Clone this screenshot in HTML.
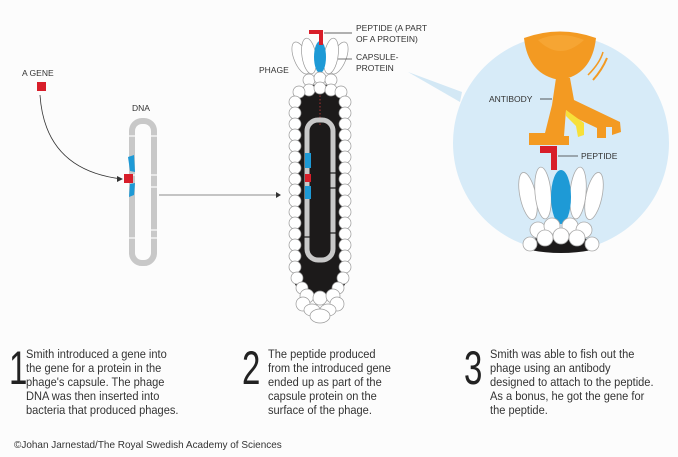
<!DOCTYPE html>
<html><head><style>
body{margin:0;background:#fff;}
svg{display:block;font-family:"Liberation Sans",sans-serif;}
.t{font-size:12.3px;fill:#333;}
.l{font-size:8.5px;fill:#333;}
.n{font-size:44px;fill:#222;}
</style></head><body>
<svg width="678" height="457" viewBox="0 0 678 457" xmlns="http://www.w3.org/2000/svg">
<rect width="678" height="457" fill="#fcfcfc"/>
<!-- left: gene + DNA -->
<text x="22" y="76" class="l">A GENE</text>
<rect x="37" y="82" width="9" height="9" fill="#d81e2a"/>
<path d="M40 95 Q45 170 122 179" fill="none" stroke="#333" stroke-width="0.8"/>
<path d="M117 176 L123 179 L117 182Z" fill="#333"/>
<text x="132" y="111" class="l">DNA</text>
<rect x="132" y="121" width="22" height="142" rx="10" fill="none" stroke="#c8c8c8" stroke-width="6"/>
<g stroke="#fcfcfc" stroke-width="1.2">
<line x1="128" y1="136" x2="158" y2="136"/><line x1="128" y1="175" x2="158" y2="175"/>
<line x1="150" y1="187" x2="158" y2="187"/><line x1="128" y1="238" x2="158" y2="238"/><line x1="150" y1="230" x2="158" y2="230"/>
</g>
<path d="M128 157 L134 155 L135 172 L130 171Z" fill="#1e9ad6"/>
<path d="M130 184 L135 183 L134 195 L129 197Z" fill="#1e9ad6"/>
<rect x="124" y="174" width="9" height="9" fill="#d81e2a"/>
<line x1="159" y1="195" x2="277" y2="195" stroke="#666" stroke-width="0.8"/>
<path d="M276 192 L281 195 L276 198Z" fill="#333"/>
<!-- phage -->
<text x="259" y="73" class="l">PHAGE</text>
<g fill="#fff" stroke="#999" stroke-width="0.7">
<ellipse cx="301" cy="58" rx="7" ry="17" transform="rotate(-22 301 58)"/>
<ellipse cx="339" cy="58" rx="7" ry="17" transform="rotate(22 339 58)"/>
<ellipse cx="309" cy="56" rx="7" ry="18" transform="rotate(-9 309 56)"/>
<ellipse cx="331" cy="56" rx="7" ry="18" transform="rotate(9 331 56)"/>
</g>
<ellipse cx="320" cy="57" rx="6" ry="16" fill="#1e9ad6"/>
<path d="M309 30 H323 V45 H319 V34 H309Z" fill="#d81e2a"/>
<line x1="324" y1="33" x2="352" y2="33" stroke="#333" stroke-width="0.7"/>
<line x1="338" y1="59" x2="352" y2="59" stroke="#333" stroke-width="0.7"/>
<text x="356" y="31" class="l">PEPTIDE (A PART</text>
<text x="356" y="42" class="l">OF A PROTEIN)</text>
<text x="356" y="60" class="l">CAPSULE-</text>
<text x="356" y="71" class="l">PROTEIN</text>
<path d="M293 100 Q293 86 320 84 Q347 86 347 100 L347 280 Q340 298 320 300 Q300 298 293 280Z" fill="#1c1a1a"/>
<line x1="320" y1="78" x2="320" y2="125" stroke="#a33" stroke-width="1" stroke-dasharray="1.5 2"/>
<g fill="#fff" stroke="#999" stroke-width="0.7">
<circle cx="309" cy="80" r="6"/><circle cx="320" cy="78" r="6"/><circle cx="331" cy="80" r="6"/>
<circle cx="309" cy="90" r="6"/><circle cx="320" cy="88" r="6"/><circle cx="331" cy="90" r="6"/>
<circle cx="299" cy="92" r="6"/><circle cx="341" cy="92" r="6"/>
</g>
<g fill="#fff" stroke="#999" stroke-width="0.7" id="col">
<circle cx="295" cy="102" r="6"/><circle cx="295" cy="113" r="6"/><circle cx="295" cy="124" r="6"/><circle cx="295" cy="135" r="6"/><circle cx="295" cy="146" r="6"/><circle cx="295" cy="157" r="6"/><circle cx="295" cy="168" r="6"/><circle cx="295" cy="179" r="6"/><circle cx="295" cy="190" r="6"/><circle cx="295" cy="201" r="6"/><circle cx="295" cy="212" r="6"/><circle cx="295" cy="223" r="6"/><circle cx="295" cy="234" r="6"/><circle cx="295" cy="245" r="6"/><circle cx="295" cy="256" r="6"/><circle cx="295" cy="267" r="6"/><circle cx="297" cy="278" r="6"/>
</g>
<use href="#col" transform="translate(640 0) scale(-1 1)"/>
<g fill="#fff" stroke="#999" stroke-width="0.7">
<circle cx="302" cy="288" r="6"/><circle cx="338" cy="288" r="6"/>
<circle cx="307" cy="296" r="7"/><circle cx="320" cy="298" r="7"/><circle cx="333" cy="296" r="7"/>
<circle cx="303" cy="304" r="7"/><circle cx="337" cy="304" r="7"/>
<ellipse cx="312" cy="310" rx="8" ry="6"/><ellipse cx="328" cy="310" rx="8" ry="6"/>
<ellipse cx="320" cy="316" rx="10" ry="7"/>
</g>
<rect x="307" y="120" width="26" height="140" rx="11" fill="none" stroke="#c8c8c8" stroke-width="5"/>
<g stroke="#1c1a1a" stroke-width="1.2">
<line x1="328" y1="173" x2="336" y2="173"/><line x1="328" y1="188" x2="336" y2="188"/><line x1="328" y1="233" x2="336" y2="233"/><line x1="304" y1="237" x2="312" y2="237"/>
</g>
<rect x="305" y="153" width="6" height="15" fill="#1e9ad6"/>
<rect x="305" y="174" width="6" height="8" fill="#d81e2a"/>
<rect x="305" y="186" width="6" height="13" fill="#1e9ad6"/>
<!-- zoom pointer -->
<path d="M408 72 L462 92 L460 102Z" fill="#d3e8f5"/>
<!-- circle -->
<circle cx="561" cy="143" r="108" fill="#d7ebf8"/>
<path d="M524 38 Q560 25 596 38 Q592 75 560 80 Q528 75 524 38Z" fill="#f39a22"/>
<path d="M538 40 Q560 62 584 40 Q560 30 538 40Z" fill="#f7a93a" opacity=".7"/>
<path d="M593 80 Q602 70 607 58" fill="none" stroke="#f39a22" stroke-width="2"/>
<path d="M588 75 Q600 63 603 52" fill="none" stroke="#f39a22" stroke-width="1.5"/>
<path d="M556 78 L570 78 L574 100 L620 122 L621 132 L612 135 L612 127 L606 127 L606 138 L597 138 L597 128 L576 118 L566 110 L564 136 L569 136 L569 145 L529 145 L529 133 L545 133 L552 105Z" fill="#f39a22"/>
<path d="M566 110 L584 123 L584 135 L578 137 L576 126 L566 116Z" fill="#f7e03a"/>
<line x1="540" y1="99" x2="552" y2="99" stroke="#333" stroke-width="0.8"/>
<text x="489" y="102" class="l">ANTIBODY</text>
<g fill="#fff" stroke="#aaa" stroke-width="0.8">
<ellipse cx="528" cy="196" rx="8" ry="24" transform="rotate(-12 528 196)"/>
<ellipse cx="594" cy="196" rx="8" ry="24" transform="rotate(12 594 196)"/>
<ellipse cx="543" cy="193" rx="8" ry="26" transform="rotate(-5 543 193)"/>
<ellipse cx="578" cy="193" rx="8" ry="26" transform="rotate(5 578 193)"/>
</g>
<ellipse cx="561" cy="197" rx="10" ry="27" fill="#1e9ad6"/>
<path d="M540 146 H557 V170 H551 V153 H540Z" fill="#d81e2a"/>
<line x1="558" y1="156" x2="578" y2="156" stroke="#333" stroke-width="0.8"/>
<text x="581" y="159" class="l">PEPTIDE</text>
<path d="M530 240 Q561 230 590 240 L592 250 Q561 256 530 250Z" fill="#1c1a1a"/>
<g fill="#fff" stroke="#aaa" stroke-width="0.8">
<circle cx="538" cy="230" r="8"/><circle cx="552" cy="226" r="8"/><circle cx="570" cy="226" r="8"/><circle cx="584" cy="230" r="8"/>
<circle cx="545" cy="238" r="8"/><circle cx="561" cy="236" r="8"/><circle cx="577" cy="238" r="8"/>
<circle cx="530" cy="244" r="7"/><circle cx="592" cy="244" r="7"/>
</g>
<!-- text -->
<g transform="translate(9 384) scale(0.75 1.08)"><text class="n">1</text></g>
<g transform="translate(26 0) scale(0.9 1)"><text class="t"><tspan x="0" y="358">Smith introduced a gene into</tspan><tspan x="0" y="372">the gene for a protein in the</tspan><tspan x="0" y="386">phage's capsule. The phage</tspan><tspan x="0" y="400">DNA was then inserted into</tspan><tspan x="0" y="414">bacteria that produced phages.</tspan></text></g>
<g transform="translate(242 384) scale(0.75 1.08)"><text class="n">2</text></g>
<g transform="translate(268 0) scale(0.9 1)"><text class="t"><tspan x="0" y="358">The peptide produced</tspan><tspan x="0" y="372">from the introduced gene</tspan><tspan x="0" y="386">ended up as part of the</tspan><tspan x="0" y="400">capsule protein on the</tspan><tspan x="0" y="414">surface of the phage.</tspan></text></g>
<g transform="translate(464 384) scale(0.75 1.08)"><text class="n">3</text></g>
<g transform="translate(490 0) scale(0.9 1)"><text class="t"><tspan x="0" y="358">Smith was able to fish out the</tspan><tspan x="0" y="372">phage using an antibody</tspan><tspan x="0" y="386">designed to attach to the peptide.</tspan><tspan x="0" y="400">As a bonus, he got the gene for</tspan><tspan x="0" y="414">the peptide.</tspan></text></g>
<g transform="translate(14 448) scale(0.95 1)"><text style="font-size:10.5px;fill:#333">©Johan Jarnestad/The Royal Swedish Academy of Sciences</text></g>
</svg>
</body></html>
